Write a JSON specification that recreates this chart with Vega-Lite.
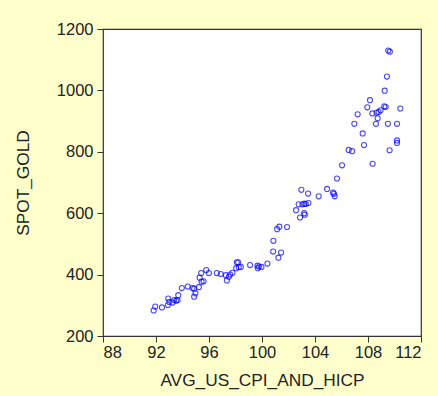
{
  "$schema": "https://vega.github.io/schema/vega-lite/v6.json",
  "autosize": {"type": "none"},
  "width": 318,
  "height": 307,
  "padding": {"left": 103, "top": 29, "right": 17, "bottom": 60},
  "background": "#FFFFCC",
  "config": {
    "view": {"stroke": "#333333", "strokeWidth": 1.2, "fill": "white"},
    "axis": {
      "grid": false,
      "domain": false,
      "tickColor": "#333333",
      "tickSize": 6,
      "labelFont": "Liberation Sans",
      "labelFontSize": 16.5,
      "labelColor": "#222222",
      "titleFont": "Liberation Sans",
      "titleFontSize": 17.3,
      "titleFontWeight": "normal",
      "titleColor": "#222222"
    }
  },
  "data": {
    "values": [
      {"cpi": 91.82, "gold": 283}, {"cpi": 91.94, "gold": 296}, {"cpi": 92.45, "gold": 293},
      {"cpi": 92.9, "gold": 301}, {"cpi": 92.92, "gold": 322}, {"cpi": 93.0, "gold": 311},
      {"cpi": 93.25, "gold": 309}, {"cpi": 93.38, "gold": 317}, {"cpi": 93.53, "gold": 315},
      {"cpi": 93.63, "gold": 317}, {"cpi": 93.68, "gold": 333}, {"cpi": 93.95, "gold": 356},
      {"cpi": 94.4, "gold": 361}, {"cpi": 94.76, "gold": 356}, {"cpi": 94.88, "gold": 354},
      {"cpi": 94.88, "gold": 328}, {"cpi": 94.98, "gold": 339}, {"cpi": 95.24, "gold": 359},
      {"cpi": 95.29, "gold": 390}, {"cpi": 95.41, "gold": 405}, {"cpi": 95.44, "gold": 377},
      {"cpi": 95.59, "gold": 378}, {"cpi": 95.79, "gold": 415}, {"cpi": 95.99, "gold": 405},
      {"cpi": 96.59, "gold": 405}, {"cpi": 96.89, "gold": 402}, {"cpi": 97.27, "gold": 398},
      {"cpi": 97.35, "gold": 381}, {"cpi": 97.5, "gold": 393}, {"cpi": 97.6, "gold": 400},
      {"cpi": 97.77, "gold": 406}, {"cpi": 98.05, "gold": 421}, {"cpi": 98.1, "gold": 440},
      {"cpi": 98.2, "gold": 440}, {"cpi": 98.25, "gold": 424}, {"cpi": 98.4, "gold": 425},
      {"cpi": 99.1, "gold": 431}, {"cpi": 99.66, "gold": 429}, {"cpi": 99.68, "gold": 421},
      {"cpi": 99.78, "gold": 426}, {"cpi": 99.96, "gold": 425}, {"cpi": 100.41, "gold": 436},
      {"cpi": 100.84, "gold": 475}, {"cpi": 100.86, "gold": 510}, {"cpi": 101.24, "gold": 455},
      {"cpi": 101.14, "gold": 548}, {"cpi": 101.31, "gold": 556}, {"cpi": 101.44, "gold": 472},
      {"cpi": 101.89, "gold": 555}, {"cpi": 102.57, "gold": 610}, {"cpi": 102.77, "gold": 629},
      {"cpi": 102.87, "gold": 586}, {"cpi": 102.97, "gold": 676}, {"cpi": 103.05, "gold": 629},
      {"cpi": 103.2, "gold": 631}, {"cpi": 103.18, "gold": 600}, {"cpi": 103.23, "gold": 595},
      {"cpi": 103.3, "gold": 630}, {"cpi": 103.48, "gold": 664}, {"cpi": 103.5, "gold": 633},
      {"cpi": 104.28, "gold": 655}, {"cpi": 104.91, "gold": 679}, {"cpi": 105.36, "gold": 667},
      {"cpi": 105.44, "gold": 663}, {"cpi": 105.49, "gold": 655}, {"cpi": 105.66, "gold": 713},
      {"cpi": 106.04, "gold": 756}, {"cpi": 106.54, "gold": 806}, {"cpi": 106.8, "gold": 802},
      {"cpi": 106.97, "gold": 891}, {"cpi": 107.22, "gold": 922}, {"cpi": 107.6, "gold": 860},
      {"cpi": 107.7, "gold": 822}, {"cpi": 107.95, "gold": 945}, {"cpi": 108.15, "gold": 968},
      {"cpi": 108.33, "gold": 925}, {"cpi": 108.35, "gold": 761}, {"cpi": 108.6, "gold": 891},
      {"cpi": 108.65, "gold": 927}, {"cpi": 108.73, "gold": 909}, {"cpi": 108.8, "gold": 930},
      {"cpi": 108.95, "gold": 935}, {"cpi": 109.26, "gold": 999}, {"cpi": 109.23, "gold": 948},
      {"cpi": 109.33, "gold": 946}, {"cpi": 109.43, "gold": 1045}, {"cpi": 109.5, "gold": 891},
      {"cpi": 109.53, "gold": 1130}, {"cpi": 109.65, "gold": 1126}, {"cpi": 109.63, "gold": 805},
      {"cpi": 110.19, "gold": 891}, {"cpi": 110.19, "gold": 837}, {"cpi": 110.19, "gold": 829},
      {"cpi": 110.44, "gold": 941}
    ]
  },
  "mark": {"type": "point", "shape": "circle", "filled": false, "color": "#0000FF", "size": 26, "strokeWidth": 1.1},
  "encoding": {
    "x": {
      "field": "cpi", "type": "quantitative",
      "scale": {"domain": [88, 112], "nice": false, "zero": false},
      "axis": {"title": "AVG_US_CPI_AND_HICP", "format": "d", "values": [88, 92, 96, 100, 104, 108, 112], "labelPadding": 2, "titlePadding": 11}
    },
    "y": {
      "field": "gold", "type": "quantitative",
      "scale": {"domain": [200, 1200], "nice": false, "zero": false},
      "axis": {"title": "SPOT_GOLD", "format": "d", "values": [200, 400, 600, 800, 1000, 1200], "labelPadding": 4, "titlePadding": 24}
    }
  }
}
